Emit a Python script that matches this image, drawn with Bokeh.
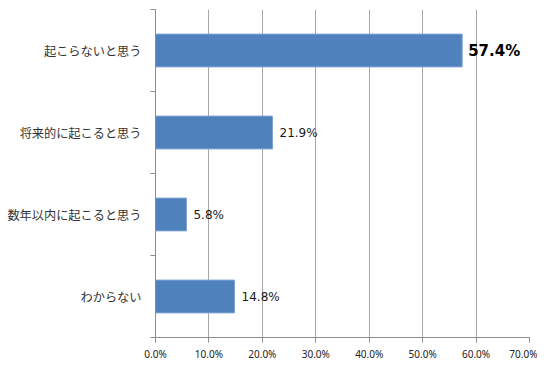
from bokeh.plotting import figure
from bokeh.models import Range1d, FixedTicker, PrintfTickFormatter, ColumnDataSource
from bokeh.core.properties import value
from bokeh.embed import file_html
from bokeh.resources import INLINE

categories = ["起こらないと思う", "将来的に起こると思う", "数年以内に起こると思う", "わからない"]
values = [57.4, 21.9, 5.8, 14.8]
x_ticks = [0, 10, 20, 30, 40, 50, 60, 70]

n = len(categories)
ypos = [n - 1 - i for i in range(n)]
labels = [f"{v:.1f}%" for v in values]

src = ColumnDataSource(dict(y=ypos, v=values, lab=labels, cat=categories))
imax = values.index(max(values))
src_max = ColumnDataSource(dict(y=[ypos[imax]], v=[values[imax]], lab=[labels[imax]]))
others = [i for i in range(n) if i != imax]
src_oth = ColumnDataSource(dict(y=[ypos[i] for i in others], v=[values[i] for i in others],
                                lab=[labels[i] for i in others]))

p = figure(frame_width=374, frame_height=328,
           output_backend="svg", toolbar_location=None,
           x_range=Range1d(0, 70), y_range=Range1d(-0.5, n - 0.5),
           min_border_left=155, min_border_top=9, min_border_right=8, min_border_bottom=0)
p.outline_line_color = None
p.background_fill_color = "white"

p.hbar(y="y", right="v", left=0, height=0.4, source=src,
       fill_color="#4F81BD", line_color="#7FA3D3", line_width=1)

p.text(x="v", y="y", text="lab", source=src_oth, x_offset=7,
       text_baseline="middle", text_align="left",
       text_font=value("DejaVu Sans"), text_font_size="12px", text_color="#1a1a1a")
p.text(x="v", y="y", text="lab", source=src_max, x_offset=6,
       text_baseline="middle", text_align="left",
       text_font=value("DejaVu Sans"), text_font_size="15px", text_font_style="bold",
       text_color="#000000")

# x axis
p.xaxis.ticker = FixedTicker(ticks=x_ticks)
p.xaxis.formatter = PrintfTickFormatter(format="%.1f%%")
p.xaxis.axis_line_color = "#8C8C8C"
p.xaxis.major_tick_line_color = "#8C8C8C"
p.xaxis.major_tick_out = 5
p.xaxis.major_tick_in = 0
p.xaxis.minor_tick_line_color = None
p.xaxis.major_label_standoff = 4
p.xaxis.major_label_text_font = "Noto Sans"
p.xaxis.major_label_text_font_size = "10px"
p.xaxis.major_label_text_color = "#222222"

# y axis: labels at centers, tick marks at boundaries
boundaries = [i - 0.5 for i in range(n + 1)]
p.yaxis.ticker = FixedTicker(ticks=ypos, minor_ticks=boundaries)
p.yaxis.major_label_overrides = {y: c for y, c in zip(ypos, categories)}
p.yaxis.major_tick_line_color = None
p.yaxis.minor_tick_line_color = "#8C8C8C"
p.yaxis.minor_tick_out = 5
p.yaxis.minor_tick_in = 0
p.yaxis.axis_line_color = "#8C8C8C"
p.yaxis.major_label_standoff = 8
p.yaxis.major_label_text_font = "Noto Sans CJK JP"
p.yaxis.major_label_text_font_size = "12.2px"
p.yaxis.major_label_text_color = "#333333"

p.xgrid.ticker = FixedTicker(ticks=x_ticks)
p.xgrid.grid_line_color = "#A6A6A6"
p.ygrid.grid_line_color = None

open("out.html", "w").write(file_html(p, INLINE))
